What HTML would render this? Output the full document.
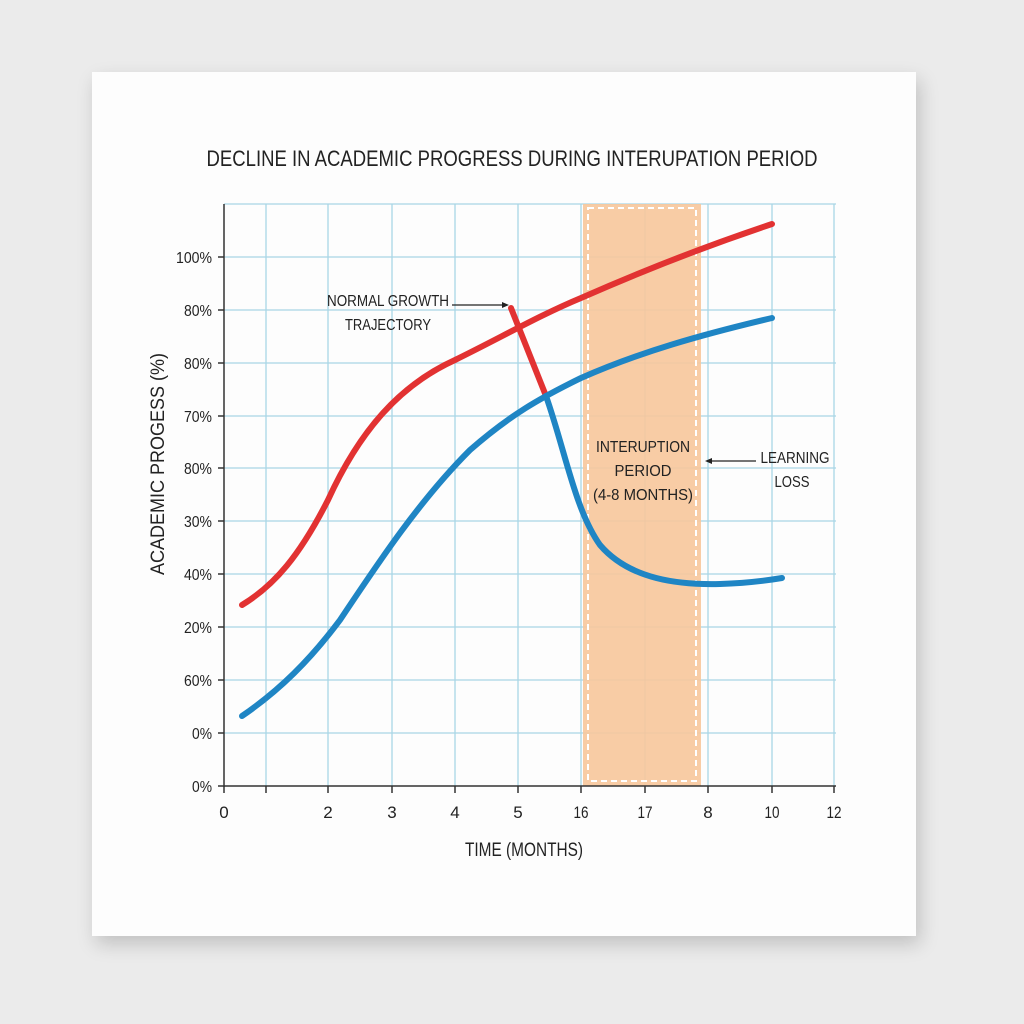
<!DOCTYPE html>
<html><head><style>
html,body{margin:0;padding:0;background:#ebebeb;}
body{width:1024px;height:1024px;position:relative;overflow:hidden;font-family:"Liberation Sans",sans-serif;}
.card{position:absolute;left:92px;top:72px;width:824px;height:864px;background:#fdfdfd;box-shadow:4px 8px 18px rgba(0,0,0,0.18);}
</style></head><body>
<div class="card"></div>
<svg width="1024" height="1024" style="position:absolute;left:0;top:0" font-family="Liberation Sans, sans-serif">
<text x="512" y="166" text-anchor="middle" font-size="22" fill="#222" textLength="611" lengthAdjust="spacingAndGlyphs">DECLINE IN ACADEMIC PROGRESS DURING INTERUPATION PERIOD</text>
<g stroke="#a9d6e6" stroke-width="1.3">
<line x1="224" y1="204" x2="836" y2="204"/>
<line x1="224" y1="257" x2="836" y2="257"/><line x1="224" y1="310" x2="836" y2="310"/>
<line x1="224" y1="363" x2="836" y2="363"/><line x1="224" y1="416" x2="836" y2="416"/>
<line x1="224" y1="468" x2="836" y2="468"/><line x1="224" y1="521" x2="836" y2="521"/>
<line x1="224" y1="574" x2="836" y2="574"/><line x1="224" y1="627" x2="836" y2="627"/>
<line x1="224" y1="680" x2="836" y2="680"/><line x1="224" y1="733" x2="836" y2="733"/>
<line x1="266" y1="204" x2="266" y2="786"/><line x1="328" y1="204" x2="328" y2="786"/>
<line x1="392" y1="204" x2="392" y2="786"/><line x1="455" y1="204" x2="455" y2="786"/>
<line x1="518" y1="204" x2="518" y2="786"/><line x1="581" y1="204" x2="581" y2="786"/>
<line x1="645" y1="204" x2="645" y2="786"/><line x1="708" y1="204" x2="708" y2="786"/>
<line x1="772" y1="204" x2="772" y2="786"/><line x1="834" y1="204" x2="834" y2="786"/>
</g>
<rect x="583" y="204" width="118" height="582" fill="#f7c69b" opacity="0.9"/>
<rect x="588" y="208" width="108" height="573" fill="none" stroke="#fff" stroke-width="2" stroke-dasharray="6,4"/>
<g stroke="#333" stroke-width="1.5">
<line x1="224" y1="204" x2="224" y2="787"/><line x1="224" y1="786" x2="836" y2="786"/>
<line x1="224" y1="786" x2="224" y2="793"/><line x1="266" y1="786" x2="266" y2="793"/><line x1="328" y1="786" x2="328" y2="793"/><line x1="392" y1="786" x2="392" y2="793"/><line x1="455" y1="786" x2="455" y2="793"/><line x1="518" y1="786" x2="518" y2="793"/><line x1="581" y1="786" x2="581" y2="793"/><line x1="645" y1="786" x2="645" y2="793"/><line x1="708" y1="786" x2="708" y2="793"/><line x1="772" y1="786" x2="772" y2="793"/><line x1="834" y1="786" x2="834" y2="793"/>
<line x1="218" y1="257" x2="224" y2="257"/><line x1="218" y1="310" x2="224" y2="310"/><line x1="218" y1="363" x2="224" y2="363"/><line x1="218" y1="416" x2="224" y2="416"/><line x1="218" y1="468" x2="224" y2="468"/><line x1="218" y1="521" x2="224" y2="521"/><line x1="218" y1="574" x2="224" y2="574"/><line x1="218" y1="627" x2="224" y2="627"/><line x1="218" y1="680" x2="224" y2="680"/><line x1="218" y1="733" x2="224" y2="733"/><line x1="218" y1="786" x2="224" y2="786"/>
</g>
<g font-size="16" fill="#222" text-anchor="end" lengthAdjust="spacingAndGlyphs">
<text x="212" y="263" textLength="36" lengthAdjust="spacingAndGlyphs">100%</text><text x="212" y="316" textLength="28" lengthAdjust="spacingAndGlyphs">80%</text><text x="212" y="369" textLength="28" lengthAdjust="spacingAndGlyphs">80%</text><text x="212" y="422" textLength="28" lengthAdjust="spacingAndGlyphs">70%</text><text x="212" y="474" textLength="28" lengthAdjust="spacingAndGlyphs">80%</text><text x="212" y="527" textLength="28" lengthAdjust="spacingAndGlyphs">30%</text><text x="212" y="580" textLength="28" lengthAdjust="spacingAndGlyphs">40%</text><text x="212" y="633" textLength="28" lengthAdjust="spacingAndGlyphs">20%</text><text x="212" y="686" textLength="28" lengthAdjust="spacingAndGlyphs">60%</text><text x="212" y="739" textLength="20" lengthAdjust="spacingAndGlyphs">0%</text><text x="212" y="792" textLength="20" lengthAdjust="spacingAndGlyphs">0%</text>
</g>
<g font-size="17" fill="#222" text-anchor="middle">
<text x="224" y="818">0</text><text x="328" y="818">2</text><text x="392" y="818">3</text><text x="455" y="818">4</text><text x="518" y="818">5</text><text x="581" y="818" textLength="15" lengthAdjust="spacingAndGlyphs">16</text><text x="645" y="818" textLength="15" lengthAdjust="spacingAndGlyphs">17</text><text x="708" y="818">8</text><text x="772" y="818" textLength="15" lengthAdjust="spacingAndGlyphs">10</text><text x="834" y="818" textLength="15" lengthAdjust="spacingAndGlyphs">12</text>
</g>
<text x="524" y="856" text-anchor="middle" font-size="19" fill="#222" textLength="118" lengthAdjust="spacingAndGlyphs">TIME (MONTHS)</text>
<text transform="translate(164,464) rotate(-90)" text-anchor="middle" font-size="19" fill="#222" textLength="222" lengthAdjust="spacingAndGlyphs">ACADEMIC PROGESS (%)</text>
<path d="M242,605 C275,585 300,555 328,500 C360,430 400,385 455,360 C500,338 540,315 581,298 C640,272 700,248 772,224" fill="none" stroke="#e23232" stroke-width="6" stroke-linecap="round"/>
<path d="M511,308 L546,396" fill="none" stroke="#e23232" stroke-width="6" stroke-linecap="round"/>
<path d="M242,716 C280,690 310,660 340,620 C380,560 420,500 470,450 C510,415 540,398 581,378 C640,352 700,335 772,318" fill="none" stroke="#1f85c4" stroke-width="6" stroke-linecap="round"/>
<path d="M546,396 C565,450 575,510 600,545 C630,580 680,585 720,584 C750,583 770,580 782,578" fill="none" stroke="#1f85c4" stroke-width="6" stroke-linecap="round"/>
<g font-size="16" fill="#222">
<text x="388" y="306" text-anchor="middle" textLength="122" lengthAdjust="spacingAndGlyphs">NORMAL GROWTH</text>
<text x="388" y="330" text-anchor="middle" textLength="86" lengthAdjust="spacingAndGlyphs">TRAJECTORY</text>
<text x="643" y="452" text-anchor="middle" textLength="94" lengthAdjust="spacingAndGlyphs">INTERUPTION</text>
<text x="643" y="476" text-anchor="middle" textLength="57" lengthAdjust="spacingAndGlyphs">PERIOD</text>
<text x="643" y="500" text-anchor="middle" textLength="100" lengthAdjust="spacingAndGlyphs">(4-8 MONTHS)</text>
<text x="795" y="463" text-anchor="middle" textLength="69" lengthAdjust="spacingAndGlyphs">LEARNING</text>
<text x="792" y="487" text-anchor="middle" textLength="35" lengthAdjust="spacingAndGlyphs">LOSS</text>
</g>
<line x1="452" y1="305" x2="502" y2="305" stroke="#222" stroke-width="1.2"/>
<path d="M502,302 L509,305 L502,308Z" fill="#222"/>
<line x1="712" y1="461" x2="756" y2="461" stroke="#222" stroke-width="1.2"/>
<path d="M712,458 L705,461 L712,464Z" fill="#222"/>
</svg>
</body></html>
